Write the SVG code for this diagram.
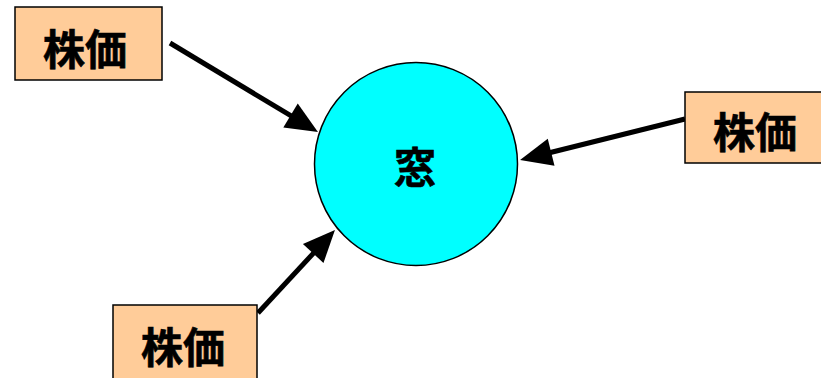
<svg xmlns="http://www.w3.org/2000/svg" width="821" height="378" viewBox="0 0 821 378">
<defs>
<style>
.box{fill:#FFCC99;stroke:#000;stroke-width:1.5}
.lbl{font-family:"Noto Sans CJK JP","Noto Sans CJK SC",sans-serif;font-weight:bold;font-size:42px;fill:#000;stroke:#000;stroke-width:0.6;text-anchor:middle}
.conn{stroke:#000;stroke-width:5;fill:none;marker-end:url(#ah)}
</style>
<marker id="ah" markerUnits="userSpaceOnUse" markerWidth="32" markerHeight="28" refX="10" refY="14" orient="auto" overflow="visible">
<path d="M0,0 L32,14 L0,28 z" fill="#000"/>
</marker>
</defs>
<rect width="821" height="378" fill="#fff"/>
<g id="connectors">
<line class="conn" x1="170" y1="43" x2="299.1" y2="120.7"/>
<line class="conn" x1="685" y1="119" x2="541.4" y2="154.7"/>
<line class="conn" x1="258" y1="313" x2="320" y2="246.1"/>
</g>
<g id="window">
<circle cx="416" cy="164" r="101.5" fill="#00FFFF" stroke="#000" stroke-width="1.5"/>
<text class="lbl" x="415" y="183">窓</text>
</g>
<g id="price1">
<rect class="box" x="15" y="7" width="147" height="73"/>
<text class="lbl" x="85" y="65">株価</text>
</g>
<g id="price2">
<rect class="box" x="685" y="92" width="140" height="71"/>
<text class="lbl" x="755" y="148">株価</text>
</g>
<g id="price3">
<rect class="box" x="113" y="305" width="144" height="76"/>
<text class="lbl" x="183" y="363">株価</text>
</g>
</svg>
